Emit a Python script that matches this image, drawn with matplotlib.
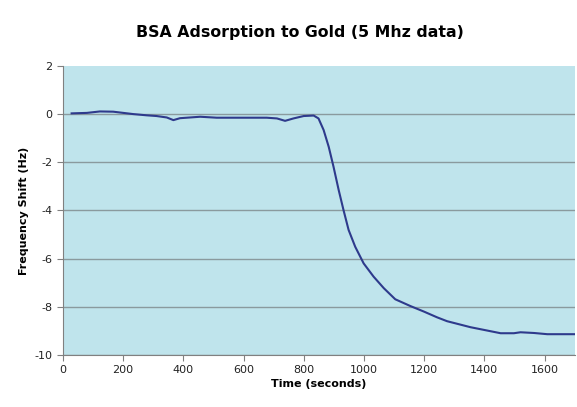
import matplotlib
matplotlib.use("Agg")
import matplotlib.pyplot as plt

plt.rcParams["axes.unicode_minus"] = False

# time (s) and frequency shift (Hz)
time_s = [29, 80, 123, 167, 234, 278, 311, 345, 367, 389, 456, 511, 566, 620, 677,
          711, 738, 766, 800, 833, 849, 866, 883, 899, 916, 932, 949, 971, 999,
          1032, 1066, 1104, 1154, 1199, 1243, 1276, 1354, 1398, 1454, 1498, 1520,
          1565, 1609, 1698]
shift_hz = [0.03, 0.05, 0.11, 0.10, 0.0, -0.05, -0.08, -0.14, -0.25, -0.17, -0.11,
            -0.15, -0.15, -0.15, -0.15, -0.18, -0.28, -0.18, -0.08, -0.06, -0.18,
            -0.66, -1.36, -2.19, -3.15, -3.98, -4.81, -5.51, -6.2, -6.75, -7.23,
            -7.69, -7.97, -8.2, -8.44, -8.6, -8.85, -8.96, -9.10, -9.10, -9.06,
            -9.09, -9.14, -9.14]

x_ticks = [0, 200, 400, 600, 800, 1000, 1200, 1400, 1600]
y_ticks = [2, 0, -2, -4, -6, -8, -10]

fig = plt.figure(figsize=(5.77, 4.07), dpi=100)
ax = fig.add_axes([0.109, 0.128, 0.887, 0.71])
ax.set_facecolor("#bfe4ec")

ax.plot(time_s, shift_hz, color="#2e3a8c", linewidth=1.5)

ax.set_xlim(0, 1700)
ax.set_ylim(-10, 2)
ax.set_xticks(x_ticks)
ax.set_yticks(y_ticks)
ax.yaxis.grid(True, color="#8a9a9e", linewidth=1)
ax.set_axisbelow(True)
# no gridline along the top edge
for line, v in zip(ax.get_ygridlines(), ax.get_yticks()):
    if v == 2:
        line.set_visible(False)

for s in ["top", "right"]:
    ax.spines[s].set_visible(False)
for s in ["left", "bottom"]:
    ax.spines[s].set_color("#808080")
ax.tick_params(colors="#808080", labelcolor="#222222", labelsize=8, length=4)

ax.set_xlabel("Time (seconds)", fontsize=8, fontweight="bold", labelpad=3)
ax.set_ylabel("Frequency Shift (Hz)", fontsize=8, fontweight="bold", labelpad=4)
fig.suptitle("BSA Adsorption to Gold (5 Mhz data)", fontsize=11.3, fontweight="bold",
             x=0.52, y=0.921, va="center")

fig.savefig("out.png", dpi=100)
